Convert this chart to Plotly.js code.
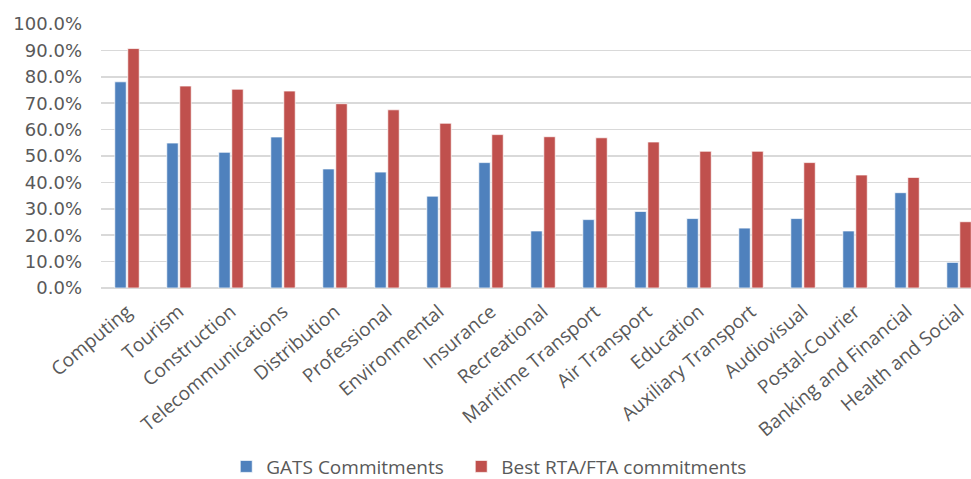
<!DOCTYPE html>
<html>
<head>
<meta charset="utf-8">
<script src="https://cdn.plot.ly/plotly-3.0.1.min.js"></script>
<style>html,body{margin:0;padding:0;background:#fff;}#chart{width:971px;height:479px;}</style>
</head>
<body>
<div id="chart"></div>
<script>
const categories = ["Computing","Tourism","Construction","Telecommunications","Distribution","Professional","Environmental","Insurance","Recreational","Maritime Transport","Air Transport","Education","Auxiliary Transport","Audiovisual","Postal-Courier","Banking and Financial","Health and Social"];
const gatsValues = [78.1, 54.9, 51.4, 57.2, 45.1, 43.9, 34.8, 47.5, 21.6, 25.9, 29.0, 26.3, 22.7, 26.3, 21.6, 36.1, 9.7];
const rtaValues = [90.7, 76.5, 75.3, 74.6, 69.8, 67.5, 62.4, 58.1, 57.3, 56.9, 55.3, 51.8, 51.8, 47.5, 42.8, 41.9, 25.1];
const seriesNames = ["GATS Commitments", "Best RTA/FTA commitments"];
const yTickValues = [0,10,20,30,40,50,60,70,80,90,100];

const traces = [
  {type:'bar', name:seriesNames[0], x:categories, y:gatsValues, legend:'legend',
   marker:{color:'#4F81BD', line:{color:'rgba(255,255,255,0.7)', width:1}}},
  {type:'bar', name:seriesNames[1], x:categories, y:rtaValues, legend:'legend2',
   marker:{color:'#C0504D', line:{color:'rgba(255,255,255,0.7)', width:1}}}
];

const legendFont = {family:'Open Sans, sans-serif', size:19, color:'#595959'};

const layout = {
  width:971, height:479,
  margin:{l:101, r:0, t:24, b:191},
  paper_bgcolor:'#fff', plot_bgcolor:'#fff',
  barmode:'group', bargap:0.5, bargroupgap:0.12,
  showlegend:true,
  legend:{orientation:'h', xref:'container', yref:'container',
          x:0.233, xanchor:'left', y:0.026, yanchor:'middle',
          font:legendFont, itemwidth:30},
  legend2:{orientation:'h', xref:'container', yref:'container',
          x:0.475, xanchor:'left', y:0.026, yanchor:'middle',
          font:legendFont, itemwidth:30},
  xaxis:{type:'category', range:[-0.5, 16.23], tickangle:-40, automargin:false,
         ticklabelstandoff:8,
         tickfont:{family:'Open Sans, sans-serif', size:19, color:'#595959'},
         showgrid:false, showline:false, ticks:'', zeroline:false, fixedrange:true},
  yaxis:{range:[0,100], tickvals:yTickValues, ticktext:yTickValues.map(v=>v.toFixed(1)+'%'),
         tickfont:{family:'DejaVu Sans, sans-serif', size:18, color:'#595959'},
         ticklabelstandoff:18,
         gridcolor:'#d9d9d9', gridwidth:1.5, zeroline:true, zerolinecolor:'#d9d9d9', zerolinewidth:1.5,
         showline:false, ticks:'', ticklen:0, automargin:false}
};

Plotly.newPlot('chart', traces, layout, {displayModeBar:false, staticPlot:true});
</script>
</body>
</html>
